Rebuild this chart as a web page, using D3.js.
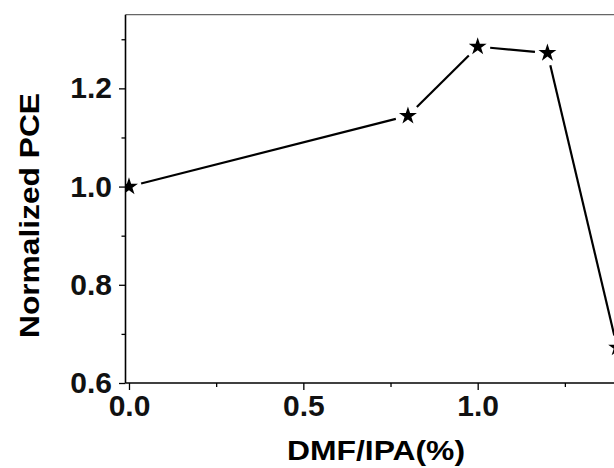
<!DOCTYPE html>
<html><head><meta charset="utf-8">
<script src="https://cdn.jsdelivr.net/npm/d3@7"></script>
<style>html,body{margin:0;padding:0;background:#fff;}svg{display:block;}</style>
</head><body>
<svg id="c" width="614" height="468"></svg>
<script>
const dmfIpa = [0, 0.8, 1.0, 1.2, 1.4];
const normPCE = [1.0, 1.144, 1.285, 1.272, 0.672];
const xMajorTicks = [0, 0.5, 1.0];
const xMinorTicks = [0.25, 0.75, 1.25];
const yMajorTicks = [0.6, 0.8, 1.0, 1.2];
const yMinorTicks = [0.7, 0.9, 1.1, 1.3];
const xTitle = "DMF/IPA(%)";
const yTitle = "Normalized PCE";

(function () {
const svg = d3.select("#c");
const pL = 125.5, pT = 14.7, pB = 383;
const x = d3.scaleLinear().domain([-0.01, 1.5]).range([pL, pL + 1.51 * 348.7]);
const y = d3.scaleLinear().domain([0.6, 1.35]).range([pB, pT]);
const font = "'Liberation Sans', Arial, sans-serif";

svg.append("defs").append("clipPath").attr("id", "clip")
  .append("rect").attr("x", pL).attr("y", pT).attr("width", 700).attr("height", pB - pT);

// top frame line
svg.append("line").attr("x1", pL).attr("x2", 614).attr("y1", pT).attr("y2", pT)
  .attr("stroke", "#666").attr("stroke-width", 1.2);

// x axis
const xAxis = svg.append("g").attr("transform", `translate(0,${pB})`)
  .call(d3.axisBottom(x).tickValues(xMajorTicks).tickSize(7).tickSizeOuter(0).tickPadding(5).tickFormat(d3.format(".1f")));
svg.append("g").attr("transform", `translate(0,${pB})`)
  .call(d3.axisBottom(x).tickValues(xMinorTicks).tickSize(4).tickSizeOuter(0).tickFormat(""))
  .select(".domain").remove();
// y axis
const yAxis = svg.append("g").attr("transform", `translate(${pL},0)`)
  .call(d3.axisLeft(y).tickValues(yMajorTicks).tickSize(6.5).tickSizeOuter(0).tickPadding(7).tickFormat(d3.format(".1f")));
svg.append("g").attr("transform", `translate(${pL},0)`)
  .call(d3.axisLeft(y).tickValues(yMinorTicks).tickSize(4).tickSizeOuter(0).tickFormat(""))
  .select(".domain").remove();

svg.selectAll(".domain").attr("stroke", "#000").attr("stroke-width", 1.6);
svg.selectAll(".tick line").attr("stroke", "#000").attr("stroke-width", 1.3);
svg.selectAll(".tick text").attr("font-family", font).attr("font-size", 30).attr("font-weight", "bold").attr("fill", "#111");
xAxis.select(".domain").attr("d", `M${pL},0H614`);
yAxis.select(".domain").attr("d", `M0,${pT}V${pB}`);

// data
const pts = dmfIpa.map((d, i) => [x(d), y(normPCE[i])]);
const plot = svg.append("g").attr("clip-path", "url(#clip)");
const gap = 12.5;
for (let i = 0; i < pts.length - 1; i++) {
  const [x1, y1] = pts[i], [x2, y2] = pts[i + 1];
  const L = Math.hypot(x2 - x1, y2 - y1);
  const ux = (x2 - x1) / L, uy = (y2 - y1) / L;
  plot.append("line")
    .attr("x1", x1 + ux * gap).attr("y1", y1 + uy * gap)
    .attr("x2", x2 - ux * gap).attr("y2", y2 - uy * gap)
    .attr("stroke", "#000").attr("stroke-width", 2.2);
}
plot.selectAll("path.star").data(pts).enter().append("path")
  .attr("class", "star")
  .attr("d", d3.symbol().type(d3.symbolStar).size(100))
  .attr("transform", d => `translate(${d[0]},${d[1]})`)
  .attr("fill", "#000");

// titles
svg.append("text").attr("x", 376).attr("y", 460).attr("text-anchor", "middle")
  .attr("font-family", font).attr("font-size", 28).attr("font-weight", "bold")
  .attr("textLength", 178).attr("lengthAdjust", "spacingAndGlyphs").text(xTitle);
svg.append("text").attr("transform", "translate(38.5,215.5) rotate(-90)").attr("text-anchor", "middle")
  .attr("font-family", font).attr("font-size", 28).attr("font-weight", "bold")
  .attr("textLength", 245).attr("lengthAdjust", "spacingAndGlyphs").text(yTitle);
})();
</script>
</body></html>
